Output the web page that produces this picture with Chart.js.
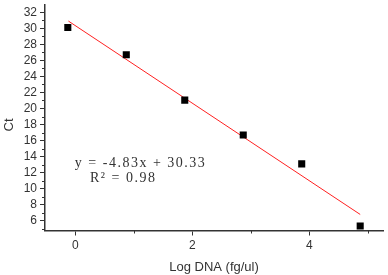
<!DOCTYPE html>
<html>
<head>
<meta charset="utf-8">
<script src="https://cdn.jsdelivr.net/npm/chart.js@4.4.0/dist/chart.umd.min.js"></script>
<style>
    html, body { margin: 0; padding: 0; background: #fff; }
    #wrap { width: 388px; height: 275px; }
</style>
</head>
<body>
<div id="wrap"><canvas id="ctChart" width="388" height="275"></canvas></div>
<script>
// measured points (log DNA vs Ct)
const logDna = [-0.13, 0.87, 1.87, 2.87, 3.87, 4.87];
const ctValues = [30.1, 26.7, 21.05, 16.7, 13.1, 5.35];

// fitted line end points
const fitX = [-0.12, 4.87];
const fitY = [30.9, 6.8];

const yTicks = [6, 8, 10, 12, 14, 16, 18, 20, 22, 24, 26, 28, 30, 32];
const xTicks = [0, 2, 4];
const eqLines = ['y = -4.83x + 30.33', 'R² = 0.98'];

const axisColor = '#333333';

// minor ticks + annotation + y title
const extrasPlugin = {
    id: 'extras',
    afterDraw(chart) {
        const ctx = chart.ctx;
        const xs = chart.scales.x;
        const ys = chart.scales.y;
        ctx.save();
        ctx.strokeStyle = axisColor;
        ctx.lineWidth = 1;
        ctx.beginPath();
        for (let v = 5; v <= 32; v += 2) {
            const py = Math.round(ys.getPixelForValue(v)) + 0.5;
            ctx.moveTo(xs.left - 3, py);
            ctx.lineTo(xs.left, py);
        }
        for (let v = 1; v <= 5; v += 2) {
            const px = Math.round(xs.getPixelForValue(v)) + 0.5;
            ctx.moveTo(px, ys.bottom);
            ctx.lineTo(px, ys.bottom + 3);
        }
        ctx.stroke();

        // regression text
        ctx.fillStyle = '#333';
        ctx.font = '14px "Liberation Serif", serif';
        ctx.textBaseline = 'middle';
        ctx.letterSpacing = '1.5px';
        ctx.fillText(eqLines[0], xs.getPixelForValue(-0.01), ys.getPixelForValue(13.2));
        ctx.fillText(eqLines[1], xs.getPixelForValue(0.25), ys.getPixelForValue(11.3));
        ctx.letterSpacing = '0px';

        // y axis title
        ctx.font = '13px "Liberation Sans", Arial, sans-serif';
        ctx.translate(9, 125);
        ctx.rotate(-Math.PI / 2);
        ctx.textAlign = 'center';
        ctx.fillText('Ct', 0, 0);
        ctx.restore();
    }
};

Chart.defaults.font.family = '"Liberation Sans", Arial, sans-serif';
Chart.defaults.color = '#333';

function noEdgePadding(s) {
    s.paddingTop = 0;
    s.paddingBottom = 0;
    s.paddingLeft = 0;
    s.paddingRight = 0;
}

new Chart(document.getElementById('ctChart'), {
    type: 'scatter',
    data: {
        datasets: [
            {
                label: 'fit',
                data: fitX.map((x, i) => ({ x, y: fitY[i] })),
                showLine: true,
                borderColor: '#ff2020',
                borderWidth: 1,
                pointRadius: 0,
                order: 2
            },
            {
                label: 'Ct',
                data: logDna.map((x, i) => ({ x, y: ctValues[i] })),
                pointStyle: 'rect',
                pointRadius: 5,
                backgroundColor: '#000',
                borderColor: '#000',
                borderWidth: 0,
                order: 1
            }
        ]
    },
    options: {
        responsive: false,
        animation: false,
        layout: { padding: { top: 0, right: 2, left: 0, bottom: 0 } },
        plugins: {
            legend: { display: false },
            tooltip: { enabled: false }
        },
        scales: {
            x: {
                type: 'linear',
                min: -0.52,
                max: 5.26,
                afterBuildTicks: s => { s.ticks = xTicks.map(v => ({ value: v })); },
                afterFit: s => { s.height = 44.5; noEdgePadding(s); },
                grid: { drawOnChartArea: false, drawTicks: true, tickLength: 5, color: axisColor },
                border: { color: axisColor, width: 1.5 },
                ticks: { font: { size: 12 }, padding: 3, color: '#333', autoSkip: false, maxRotation: 0 },
                title: {
                    display: true,
                    text: 'Log DNA (fg/ul)',
                    font: { size: 13 },
                    color: '#333',
                    padding: { top: 4, bottom: 0 }
                }
            },
            y: {
                type: 'linear',
                min: 4.8,
                max: 32.9,
                afterBuildTicks: s => { s.ticks = yTicks.map(v => ({ value: v })); },
                afterFit: s => { s.width = 45; noEdgePadding(s); },
                grid: { drawOnChartArea: false, drawTicks: true, tickLength: 5, color: axisColor },
                border: { color: axisColor, width: 1.5 },
                ticks: { font: { size: 12 }, padding: 3, color: '#333', autoSkip: false }
            }
        }
    },
    plugins: [extrasPlugin]
});
</script>
</body>
</html>
